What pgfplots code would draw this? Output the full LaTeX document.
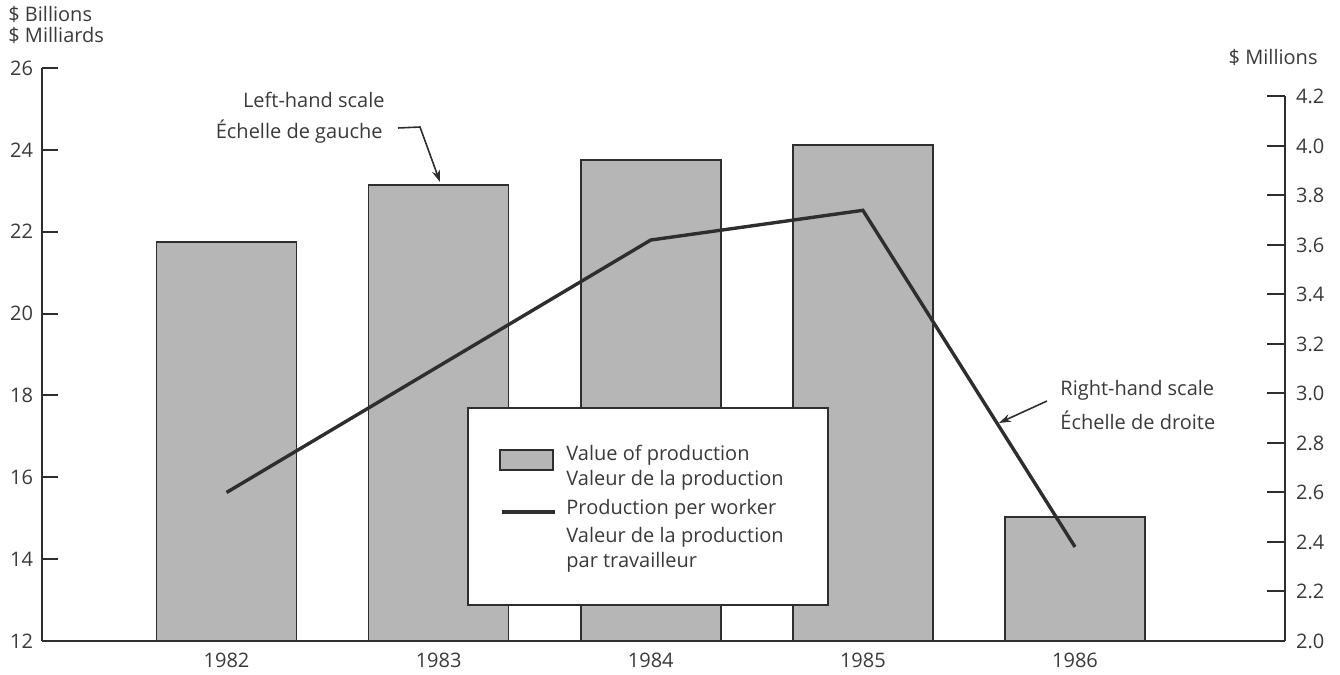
\documentclass[border=0pt]{standalone}
\usepackage{pgfplots}
\pgfplotsset{compat=1.18}
\usepackage{fontspec}
\setmainfont{Open Sans}
\usetikzlibrary{arrows.meta}
\definecolor{txt}{HTML}{3A3A3A}
\definecolor{ax}{HTML}{2E2E2E}
\definecolor{barfill}{RGB}{182,182,182}
\begin{document}
\begin{tikzpicture}[font=\fontsize{10}{12}\selectfont, color=txt]
\begin{axis}[
  name=main,
  scale only axis,
  width=621.5pt, height=286.5pt,
  xmin=1981.13, xmax=1986.99,
  ymin=12, ymax=26,
  axis x line*=bottom, axis y line*=left,
  axis line style={-, ax, line width=1pt},
  xtick={1982,1983,1984,1985,1986},
  xticklabels={1982,1983,1984,1985,1986},
  x tick label style={/pgf/number format/1000 sep={}, yshift=5.5pt, text=txt},
  major x tick style={draw=none},
  ytick={12,14,16,18,20,22,24,26},
  y tick label style={text=txt, xshift=-1pt},
  tick align=inside, major tick length=8pt,
  major y tick style={ax, line width=1pt},
  /pgf/number format/assume math mode=true,
  ybar, bar width=0.66, bar shift=0pt,
]
\addplot[fill=barfill, draw=ax, line width=0.8pt] coordinates {
  (1982,21.75) (1983,23.14) (1984,23.75) (1985,24.12) (1986,15.03)};
\coordinate (SW) at (rel axis cs:0,0);
\coordinate (NE) at (rel axis cs:1,1);
\end{axis}
\begin{axis}[
  scale only axis,
  width=621.5pt, height=286.5pt,
  xmin=1981.13, xmax=1986.99,
  ymin=2.0, ymax=4.315,
  axis x line=none,
  axis y line*=right,
  y axis line style={draw=none},
  ytick={2.0,2.2,2.4,2.6,2.8,3.0,3.2,3.4,3.6,3.8,4.0,4.2},
  yticklabel style={/pgf/number format/.cd, fixed, fixed zerofill, precision=1, /tikz/.cd, text=txt, xshift=2pt},
  /pgf/number format/assume math mode=true,
  tick align=inside, major tick length=9pt,
  major y tick style={ax, line width=1pt},
  clip=false,
]
\addplot[ax, line width=1.7pt, mark=none] coordinates {
  (1982,2.60) (1983,3.11) (1984,3.62) (1985,3.74) (1986,2.38)};
\draw[ax, line width=1pt] (rel axis cs:1,0) -- ({rel axis cs:1,0}|-{axis cs:1982,4.2});
% legend
\draw[ax, line width=0.9pt, fill=white] (rel axis cs:0.3427,0.4066) rectangle (rel axis cs:0.6323,0.0628);
\draw[ax, line width=0.9pt, fill=barfill] (rel axis cs:0.3685,0.3333) rectangle (rel axis cs:0.4111,0.2984);
\draw[ax, line width=1.7pt] (rel axis cs:0.3701,0.2251) -- (rel axis cs:0.4127,0.2251);
\node[anchor=west, inner sep=0pt] at (rel axis cs:0.4216,0.3246) {Value of production};
\node[anchor=west, inner sep=0pt] at (rel axis cs:0.4216,0.2810) {Valeur de la production};
\node[anchor=west, inner sep=0pt] at (rel axis cs:0.4216,0.2304) {Production per worker};
\node[anchor=west, inner sep=0pt] at (rel axis cs:0.4216,0.1815) {Valeur de la production};
\node[anchor=west, inner sep=0pt] at (rel axis cs:0.4216,0.1379) {par travailleur};
% annotations
\node[anchor=east, inner sep=0pt] at (rel axis cs:0.2759,0.9442) {Left-hand scale};
\node[anchor=east, inner sep=0pt] at (rel axis cs:0.2743,0.8883) {Échelle de gauche};
\draw[ax, line width=0.8pt, -{Stealth[length=6pt,width=4pt]}] (rel axis cs:0.2864,0.8953) -- (rel axis cs:0.3041,0.8970) -- (rel axis cs:0.3202,0.8010);
\node[anchor=west, inner sep=0pt] at (rel axis cs:0.8190,0.4380) {Right-hand scale};
\node[anchor=west, inner sep=0pt] at (rel axis cs:0.8190,0.3857) {Échelle de droite};
\draw[ax, line width=0.8pt, -{Stealth[length=6pt,width=4pt]}] (rel axis cs:0.8085,0.4188) -- (rel axis cs:0.7699,0.3805);
% unit labels
\node[anchor=west, inner sep=0pt] at (rel axis cs:-0.0274,1.0942) {\$ Billions};
\node[anchor=west, inner sep=0pt] at (rel axis cs:-0.0274,1.0576) {\$ Milliards};
\node[anchor=east, inner sep=0pt] at (rel axis cs:1.0265,1.0192) {\$ Millions};
\end{axis}
\pgfresetboundingbox
\path ([xshift=-21pt,yshift=-17pt]SW) rectangle ([xshift=27.5pt,yshift=34pt]NE);
\end{tikzpicture}
\end{document}
